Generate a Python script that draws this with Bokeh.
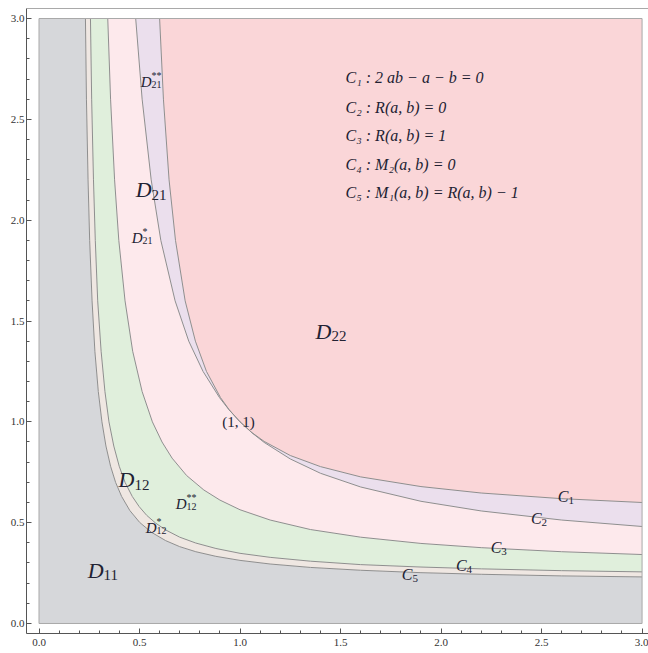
from bokeh.plotting import figure
from bokeh.models import Range1d, LinearAxis, SingleIntervalTicker, PrintfTickFormatter, Span
from bokeh.core.properties import value
from bokeh.embed import file_html
from bokeh.resources import INLINE

SERIF = "Liberation Serif"

# domain of the region plot
A_MIN, A_MAX = 0.0, 3.0

# curves (a, b)
C1_A = [0.6, 0.619, 0.647, 0.679, 0.727, 0.778, 0.833, 0.903, 0.946, 1.0, 1.06, 1.12, 1.25, 1.4, 1.6, 1.9, 2.2, 2.6, 3.0]
C1_B = [3.0, 2.6, 2.2, 1.9, 1.6, 1.4, 1.25, 1.12, 1.06, 1.0, 0.946, 0.903, 0.833, 0.778, 0.727, 0.679, 0.647, 0.619, 0.6]

C2_A = [0.481, 0.513, 0.558, 0.606, 0.677, 0.745, 0.816, 0.898, 0.945, 1.0, 1.06, 1.12, 1.25, 1.4, 1.6, 1.9, 2.2, 2.6, 3.0]
C2_B = [3.0, 2.6, 2.2, 1.9, 1.6, 1.4, 1.25, 1.12, 1.06, 1.0, 0.945, 0.898, 0.816, 0.745, 0.677, 0.606, 0.558, 0.513, 0.481]

C3_A = [0.342, 0.356, 0.376, 0.397, 0.428, 0.466, 0.513, 0.564, 0.612, 0.662, 0.734,
        0.82, 0.9, 1.0, 1.15, 1.35, 1.6, 1.9, 2.2, 2.6, 3.0]
C3_B = [3.0, 2.6, 2.2, 1.9, 1.6, 1.35, 1.15, 1.0, 0.9, 0.82, 0.734,
        0.662, 0.612, 0.564, 0.513, 0.466, 0.428, 0.397, 0.376, 0.356, 0.342]

C4_A = [0.256, 0.262, 0.271, 0.280, 0.292, 0.309, 0.328, 0.348, 0.372, 0.399, 0.428, 0.464, 0.498, 0.536,
        0.58, 0.63, 0.7, 0.78, 0.88, 1.0, 1.15, 1.35, 1.6, 1.9, 2.2, 2.6, 3.0]
C4_B = [3.0, 2.6, 2.2, 1.9, 1.6, 1.35, 1.15, 1.0, 0.88, 0.78, 0.7, 0.63, 0.58, 0.536,
        0.498, 0.464, 0.428, 0.399, 0.372, 0.348, 0.328, 0.309, 0.292, 0.280, 0.271, 0.262, 0.256]

C5_A = [0.231, 0.236, 0.244, 0.252, 0.264, 0.278, 0.295, 0.313, 0.333, 0.356, 0.381, 0.411, 0.452, 0.501,
        0.56, 0.63, 0.7, 0.78, 0.88, 1.0, 1.15, 1.35, 1.6, 1.9, 2.2, 2.6, 3.0]
C5_B = [3.0, 2.6, 2.2, 1.9, 1.6, 1.35, 1.15, 1.0, 0.88, 0.78, 0.7, 0.63, 0.56, 0.501,
        0.452, 0.411, 0.381, 0.356, 0.333, 0.313, 0.295, 0.278, 0.264, 0.252, 0.244, 0.236, 0.231]

REGION_COLORS = ["#d6d7da", "#efe7e2", "#e0efdc", "#fde9ec", "#ebdfed", "#fad6d8"]

EQUATIONS = ["C\u2081 : 2 ab \u2212 a \u2212 b = 0",
             "C\u2082 : R(a, b) = 0",
             "C\u2083 : R(a, b) = 1",
             "C\u2084 : M\u2082(a, b) = 0",
             "C\u2085 : M\u2081(a, b) = R(a, b) \u2212 1"]
EQ_X = 1.525
EQ_Y = [2.707, 2.559, 2.420, 2.276, 2.137]

Y_TOP = 3.0496

p = figure(frame_width=622, frame_height=625,
           x_range=Range1d(-0.0622, 3.032), y_range=Range1d(-0.0496, Y_TOP),
           output_backend="svg", toolbar_location=None,
           x_axis_location=None, y_axis_location=None,
           min_border_left=26, min_border_right=0, min_border_top=8, min_border_bottom=0)
p.grid.visible = False
p.outline_line_color = None
p.background_fill_color = "white"
p.border_fill_color = "white"

AX = "#555555"


def style_axis(ax):
    ax.ticker = SingleIntervalTicker(interval=0.5, num_minor_ticks=5)
    ax.formatter = PrintfTickFormatter(format="%.1f")
    ax.major_tick_in = 5
    ax.major_tick_out = 0
    ax.minor_tick_in = 3
    ax.minor_tick_out = 0
    ax.axis_line_color = AX
    ax.major_tick_line_color = AX
    ax.minor_tick_line_color = AX
    ax.major_label_text_font = SERIF
    ax.major_label_text_font_size = "11px"
    ax.major_label_text_color = "#333333"


xb = LinearAxis()
style_axis(xb)
xb.major_label_standoff = 5
p.add_layout(xb, "below")

yl = LinearAxis()
style_axis(yl)
yl.major_label_standoff = 2
p.add_layout(yl, "left")

p.add_layout(Span(location=Y_TOP, dimension="width", line_color=AX, line_width=1))

# regions
xs = [[A_MIN, A_MIN] + C5_A + [A_MAX],
      C5_A + C4_A[::-1],
      C4_A + C3_A[::-1],
      C3_A + C2_A[::-1],
      C2_A + C1_A[::-1],
      C1_A + [A_MAX]]
ys = [[A_MIN, A_MAX] + C5_B + [A_MIN],
      C5_B + C4_B[::-1],
      C4_B + C3_B[::-1],
      C3_B + C2_B[::-1],
      C2_B + C1_B[::-1],
      C1_B + [A_MAX]]
p.patches(xs=xs, ys=ys, fill_color=REGION_COLORS, line_color=None)

p.multi_line(xs=[C1_A, C2_A, C3_A, C4_A, C5_A], ys=[C1_B, C2_B, C3_B, C4_B, C5_B],
             line_color="#8e8e8e", line_width=1)
p.quad(left=[A_MIN], right=[A_MAX], bottom=[A_MIN], top=[A_MAX],
       fill_color=None, line_color="#a9a9a9", line_width=1)

TXT = "#222233"


def math_label(x, y, main, sub="", sup="", size=21):
    p.text(x=[x], y=[y], text=[main], text_font=value(SERIF), text_font_style="italic",
           text_font_size=f"{size}px", text_align="right", text_baseline="alphabetic",
           text_color=TXT)
    s = round(size * 0.68)
    if sub:
        p.text(x=[x], y=[y], text=[sub], text_font=value(SERIF), text_font_size=f"{s}px",
               text_align="left", text_baseline="alphabetic", text_color=TXT,
               x_offset=0, y_offset=round(size * 0.22))
    if sup:
        p.text(x=[x], y=[y], text=[sup], text_font=value(SERIF), text_font_size=f"{s}px",
               text_align="left", text_baseline="alphabetic", text_color=TXT,
               x_offset=0, y_offset=-round(size * 0.42))


math_label(1.455, 1.448, "D", "22", size=22)
math_label(0.560, 2.152, "D", "21", size=22)
math_label(0.560, 2.687, "D", "21", "**", size=15)
math_label(0.515, 1.914, "D", "21", "*", size=15)
math_label(0.475, 0.714, "D", "12", size=22)
math_label(0.734, 0.595, "D", "12", "**", size=15)
math_label(0.585, 0.476, "D", "12", "*", size=15)
math_label(0.321, 0.263, "D", "11", size=22)

math_label(2.634, 0.630, "C", "1", size=16)
math_label(2.500, 0.521, "C", "2", size=16)
math_label(2.300, 0.377, "C", "3", size=16)
math_label(2.127, 0.288, "C", "4", size=16)
math_label(1.858, 0.243, "C", "5", size=16)

p.text(x=[0.993], y=[0.997], text=["(1, 1)"], text_font=value(SERIF), text_font_size="15px",
       text_align="center", text_baseline="middle", text_color=TXT)

p.text(x=[EQ_X] * len(EQ_Y), y=EQ_Y, text=EQUATIONS, text_font=value(SERIF),
       text_font_style="italic", text_font_size="16px", text_align="left",
       text_baseline="alphabetic", text_color=TXT)

open("out.html", "w").write(file_html(p, INLINE))
